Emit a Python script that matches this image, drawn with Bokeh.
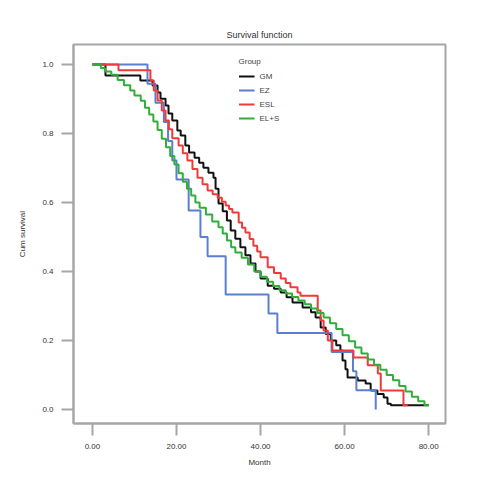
from bokeh.plotting import figure
from bokeh.models import Range1d, FixedTicker, PrintfTickFormatter, Legend, LegendItem
from bokeh.embed import file_html
from bokeh.resources import INLINE

# ---- data ----
group_names = ["GM", "EZ", "ESL", "EL+S"]
x_ticks = [0, 20, 40, 60, 80]
y_ticks = [0.0, 0.2, 0.4, 0.6, 0.8, 1.0]

black_t = [0, 3.1, 11.4, 14.3, 15.5, 16.2, 17.4, 18.1, 19.0, 20.2, 21.0, 22.1, 23.0, 24.3, 25.4,
           26.4, 27.6, 28.8, 29.3, 30.0, 31.0, 32.0, 32.9, 34.0, 35.2, 36.4, 37.6, 38.8, 40.0,
           41.7, 43.2, 44.8, 46.2, 47.6, 50.0, 52.0, 53.1, 54.3, 55.5, 56.7, 58.0, 59.0, 59.5,
           60.2, 60.7, 63.1, 65.0, 66.2, 67.8, 69.3, 70.2, 71.0, 80.0]
black_s = [1.0, 0.968, 0.954, 0.939, 0.919, 0.901, 0.881, 0.858, 0.838, 0.809, 0.794, 0.765, 0.745,
           0.730, 0.715, 0.701, 0.686, 0.672, 0.640, 0.597, 0.575, 0.548, 0.519, 0.495, 0.470,
           0.447, 0.423, 0.400, 0.380, 0.359, 0.350, 0.339, 0.325, 0.310, 0.296, 0.282, 0.267,
           0.238, 0.219, 0.200, 0.186, 0.171, 0.142, 0.117, 0.093, 0.084, 0.075, 0.055, 0.045,
           0.035, 0.017, 0.012, 0.012]

blue_t = [0, 13.1, 15.0, 17.0, 18.0, 19.0, 20.0, 22.9, 25.7, 27.4, 31.7, 41.9, 44.0, 56.9,
          62.0, 62.8, 67.4]
blue_s = [1.0, 0.944, 0.889, 0.833, 0.778, 0.722, 0.667, 0.577, 0.5, 0.444, 0.333, 0.278,
          0.222, 0.167, 0.111, 0.056, 0.0]

red_t = [0, 6.2, 13.8, 14.6, 15.5, 16.5, 17.4, 18.2, 19.0, 20.5, 21.5, 22.6, 23.8, 25.0, 26.2,
         27.4, 28.6, 29.8, 30.8, 31.7, 32.5, 33.3, 34.8, 35.6, 36.4, 37.4, 38.3, 39.2, 40.0,
         41.7, 43.2, 44.8, 46.0, 47.1, 48.8, 49.5, 53.6, 54.3, 55.0, 56.0, 57.1, 62.1, 65.5,
         67.9, 68.6, 74.0, 75.0]
red_s = [1.0, 0.983, 0.954, 0.925, 0.896, 0.867, 0.838, 0.812, 0.786, 0.765, 0.743, 0.722, 0.697,
         0.672, 0.653, 0.635, 0.624, 0.614, 0.602, 0.591, 0.581, 0.571, 0.542, 0.527, 0.513,
         0.494, 0.475, 0.458, 0.441, 0.412, 0.396, 0.380, 0.367, 0.354, 0.339, 0.330, 0.287,
         0.258, 0.229, 0.200, 0.171, 0.151, 0.128, 0.104, 0.055, 0.012, 0.012]

green_t = [0, 2, 3, 4.5, 6, 7.5, 9, 10, 11.5, 12.5, 13.5, 14.5, 15.5, 16.5, 17.5, 18.5, 19.5,
           20.5, 21.5, 22.5, 23.5, 24.5, 25.5, 27, 28.5, 30, 31, 32, 33, 34, 35.5, 37, 38.5, 40,
           41.5, 43, 44.5, 46, 47.5, 49, 50.5, 52, 53.5, 55, 56.5, 58, 59.5, 61, 62.5, 64, 65.5,
           67, 68.5, 70, 71.5, 73, 74.5, 76, 77.5, 79, 80]
green_s = [1.0, 0.99, 0.98, 0.97, 0.955, 0.94, 0.925, 0.91, 0.895, 0.875, 0.855, 0.835, 0.81,
           0.785, 0.76, 0.735, 0.71, 0.685, 0.66, 0.64, 0.62, 0.60, 0.585, 0.565, 0.545, 0.528,
           0.51, 0.49, 0.47, 0.455, 0.44, 0.42, 0.40, 0.385, 0.37, 0.358, 0.346, 0.336, 0.326,
           0.316, 0.305, 0.293, 0.28, 0.267, 0.25, 0.233, 0.215, 0.198, 0.18, 0.162, 0.145,
           0.13, 0.115, 0.10, 0.085, 0.068, 0.052, 0.037, 0.024, 0.012, 0.012]

series = [(black_t, black_s, "#111111"), (blue_t, blue_s, "#5a7fd0"),
          (red_t, red_s, "#f03a3a"), (green_t, green_s, "#2fae3a")]

FONT = "Liberation Sans"
GRAY = "#a6a6a6"

p = figure(width=484, height=484, output_backend="svg", toolbar_location=None,
           x_range=Range1d(-4.5, 84), y_range=Range1d(-0.0406, 1.058),
           min_border_left=73, min_border_right=39, min_border_top=44, min_border_bottom=61,
           title="Survival function")
p.title.align = "center"
p.title.text_font = FONT
p.title.text_font_size = "9px"
p.title.text_font_style = "normal"
p.title.text_color = "#333333"

p.grid.visible = False
p.outline_line_color = GRAY
p.outline_line_width = 2
p.background_fill_color = "white"
p.border_fill_color = "white"

for ax in (p.xaxis[0], p.yaxis[0]):
    ax.axis_line_color = GRAY
    ax.axis_line_width = 2
    ax.major_tick_line_color = GRAY
    ax.major_tick_line_width = 2
    ax.major_tick_out = 12
    ax.major_tick_in = 0
    ax.minor_tick_line_color = None
    ax.major_label_text_font = FONT
    ax.major_label_text_font_size = "8px"
    ax.major_label_text_color = "#333333"
    ax.axis_label_text_font = FONT
    ax.axis_label_text_font_size = "8px"
    ax.axis_label_text_font_style = "normal"
    ax.axis_label_text_color = "#333333"

p.xaxis.ticker = FixedTicker(ticks=x_ticks)
p.xaxis.formatter = PrintfTickFormatter(format="%.2f")
p.xaxis.axis_label = "Month"
p.xaxis.major_label_standoff = 8
p.xaxis.axis_label_standoff = 6
p.yaxis.ticker = FixedTicker(ticks=y_ticks)
p.yaxis.formatter = PrintfTickFormatter(format="%.1f")
p.yaxis.axis_label = "Cum survival"
p.yaxis.major_label_standoff = 8
p.yaxis.axis_label_standoff = 12

items = []
for (t, s, c), name in zip(series, group_names):
    r = p.step(t, s, mode="after", line_color=c, line_width=2)
    items.append(LegendItem(label=name, renderers=[r]))

leg = Legend(items=items, title="Group", location="top_center")
leg.title_text_font = FONT
leg.title_text_font_size = "8px"
leg.title_text_font_style = "normal"
leg.label_text_font = FONT
leg.label_text_font_size = "8px"
leg.label_height = 10
leg.glyph_height = 10
leg.glyph_width = 16
leg.spacing = 4
leg.padding = 2
leg.margin = 13
leg.border_line_color = None
leg.background_fill_alpha = 0
p.add_layout(leg, "center")

open("out.html", "w").write(file_html(p, INLINE))
